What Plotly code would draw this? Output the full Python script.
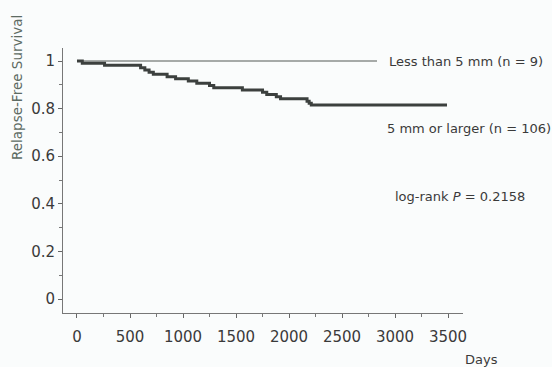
import plotly.graph_objects as go

# Data
small_days = [0, 2830]
small_surv = [1.0, 1.0]

large_days = [0, 50, 260, 600, 640, 680, 720, 850, 930, 1050, 1130, 1250, 1290,
              1560, 1750, 1790, 1880, 1920, 2170, 2190, 2210, 3490]
large_surv = [1.0, 0.991, 0.982, 0.972, 0.962, 0.953, 0.944, 0.934, 0.925, 0.916,
              0.906, 0.897, 0.888, 0.878, 0.869, 0.859, 0.850, 0.841, 0.831, 0.822,
              0.815, 0.815]

x_ticks = [0, 500, 1000, 1500, 2000, 2500, 3000, 3500]
y_ticks = [0, 0.2, 0.4, 0.6, 0.8, 1]
y_tick_text = ["0", "0.2", "0.4", "0.6", "0.8", "1"]

FONT = "DejaVu Sans, Arial, Helvetica, sans-serif"
TXT = "#3a3a3a"

fig = go.Figure()
fig.add_trace(go.Scatter(x=small_days, y=small_surv, mode="lines",
                         line=dict(color="#8a8f8c", width=1.3, shape="hv"),
                         showlegend=False, hoverinfo="skip"))
fig.add_trace(go.Scatter(x=large_days, y=large_surv, mode="lines",
                         line=dict(color="#3c403e", width=3, shape="hv"),
                         showlegend=False, hoverinfo="skip"))

ann_font = dict(family=FONT, size=13, color=TXT)
fig.add_annotation(x=2925, y=1.0, text="Less than 5 mm (n = 9)", showarrow=False,
                   xanchor="left", yanchor="middle", font=ann_font)
fig.add_annotation(x=2906, y=0.718, text="5 mm or larger (n = 106)", showarrow=False,
                   xanchor="left", yanchor="middle", font=ann_font)
fig.add_annotation(x=2981, y=0.429, text="log-rank <i>P</i> = 0.2158", showarrow=False,
                   xanchor="left", yanchor="middle", font=ann_font)
fig.add_annotation(x=1.045, y=-0.177, xref="paper", yref="paper", text="Days",
                   showarrow=False, font=ann_font, xanchor="center", yanchor="middle")
fig.add_annotation(x=-0.115, y=0.849, xref="paper", yref="paper",
                   text="Relapse-Free Survival", textangle=-90, showarrow=False,
                   font=dict(family=FONT, size=13.5, color="#5d6b63"),
                   xanchor="center", yanchor="middle")

fig.update_layout(
    width=552, height=367,
    margin=dict(l=63, r=89, t=48, b=54),
    paper_bgcolor="#fafcfc", plot_bgcolor="#fafcfc",
    font=dict(family=FONT, color=TXT),
)

fig.update_xaxes(range=[-132, 3641], tickvals=x_ticks, ticks="outside", ticklen=4,
                 tickcolor="#666", showline=True, linecolor="#777", linewidth=1,
                 showgrid=False, zeroline=False, tickfont=dict(size=15, color=TXT),
                 ticklabelstandoff=6,
                 minor=dict(dtick=250, tick0=0, ticks="outside", ticklen=3, tickcolor="#777"))
fig.update_yaxes(range=[-0.0588, 1.0546], tickvals=y_ticks, ticktext=y_tick_text,
                 ticks="outside", ticklen=4, tickcolor="#666", showline=True,
                 linecolor="#777", linewidth=1, showgrid=False, zeroline=False,
                 tickfont=dict(size=15, color=TXT),
                 minor=dict(dtick=0.1, tick0=0, ticks="outside", ticklen=3, tickcolor="#777"))

fig.write_html("out.html", post_script="document.body.style.margin='0';",
               config={"displayModeBar": False})
